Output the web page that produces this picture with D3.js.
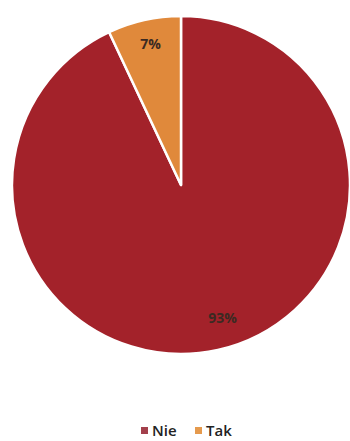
<!DOCTYPE html>
<html><head><meta charset="utf-8">
<script src="https://cdn.jsdelivr.net/npm/d3@7"></script>
<style>html,body{margin:0;padding:0;background:#fff;}svg{display:block;}</style>
</head><body>
<script>
const categories = ["Nie", "Tak"];
const values = [93, 7];
const labels = ["93%", "7%"];
const colors = ["#A3222A", "#E0893B"];
const legendColors = ["#A3404C", "#E59A4E"];

const W = 350, H = 441;
const svg = d3.select("body").append("svg").attr("width", W).attr("height", H);
const cx = 181, cy = 185, R = 169;
const g = svg.append("g").attr("transform", `translate(${cx},${cy})`);
const pie = d3.pie().sort(null).value(d => d)(values);
const arc = d3.arc().innerRadius(0).outerRadius(R);
g.selectAll("path").data(pie).enter().append("path")
  .attr("d", arc).attr("fill", (d,i) => colors[i])
  .attr("stroke", "#fff").attr("stroke-width", 2.5).attr("stroke-linejoin", "round");

const labelArc = d3.arc().innerRadius(0.85*R).outerRadius(0.85*R);
const labelArcBig = d3.arc().innerRadius(0.8*R).outerRadius(0.8*R);
const offsets = [[12, 1], [1, -1]];
g.selectAll("text.lbl").data(pie).enter().append("text")
  .attr("class", "lbl")
  .attr("transform", (d,i) => {
    const c = (i === 0 ? labelArcBig : labelArc).centroid(d);
    return `translate(${c[0] + offsets[i][0]},${c[1] + offsets[i][1]})`;
  })
  .attr("text-anchor", "middle").attr("dominant-baseline", "central")
  .attr("font-family", "Open Sans, sans-serif").attr("font-weight", 700)
  .attr("font-size", 14).attr("fill", "#3b2a22")
  .text((d,i) => labels[i]);

// legend
const lg = svg.append("g").attr("transform", "translate(0,430)");
const items = [{x: 141}, {x: 195}];
categories.forEach((c, i) => {
  lg.append("rect").attr("x", items[i].x).attr("y", -3).attr("width", 7).attr("height", 7)
    .attr("fill", legendColors[i]);
  lg.append("text").attr("x", items[i].x + 11).attr("y", 0)
    .attr("dominant-baseline", "central")
    .attr("font-family", "Open Sans, sans-serif").attr("font-weight", 600)
    .attr("font-size", 15).attr("fill", "#222")
    .text(c);
});
</script>
</body></html>
